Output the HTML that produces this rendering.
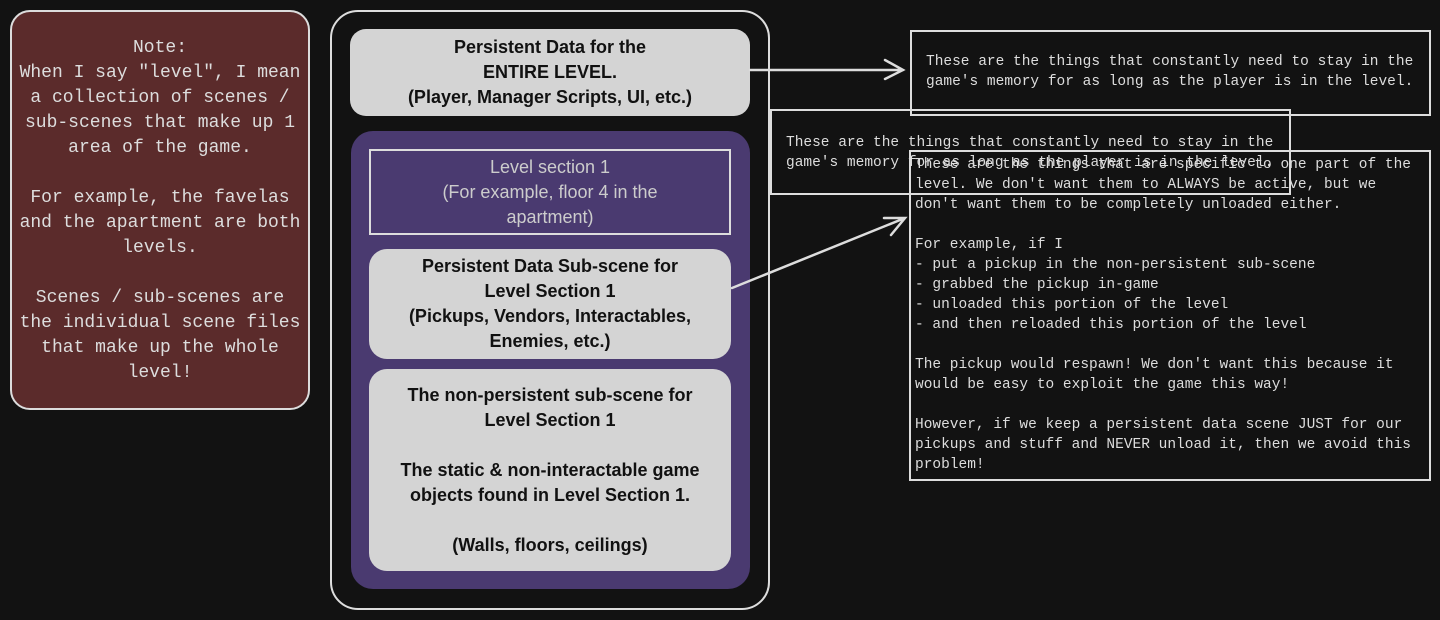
<!DOCTYPE html>
<html><head><meta charset="utf-8"><style>
body{margin:0;width:1440px;height:620px;background:#121212;position:relative;overflow:hidden;font-family:"Liberation Sans",sans-serif}
.a{position:absolute;box-sizing:border-box;display:flex;align-items:center;justify-content:center;text-align:center}
.m{position:absolute;font-family:"Liberation Mono",monospace;font-size:14.5px;line-height:20px;color:#ddd;white-space:pre}
.box{position:absolute;box-sizing:border-box;border:2px solid #ddd}
</style></head><body>
<div class="a" style="left:10px;top:10px;width:300px;height:400px;background:#5b2b2b;border:2px solid #ddd;border-radius:20px;align-items:flex-start;padding-top:24px;color:#ddd;font-family:'Liberation Mono',monospace;font-size:18px;line-height:25px;white-space:nowrap">Note:<br>When I say "level", I mean<br>a collection of scenes /<br>sub-scenes that make up 1<br>area of the game.<br><br>For example, the favelas<br>and the apartment are both<br>levels.<br><br>Scenes / sub-scenes are<br>the individual scene files<br>that make up the whole<br>level!</div>

<div class="box" style="left:330px;top:10px;width:440px;height:600px;border-radius:28px"></div>
<div class="a" style="left:350px;top:29px;width:400px;height:87px;background:#d4d4d4;border-radius:16px;color:#111;font-weight:bold;font-size:18px;line-height:25px">Persistent Data for the<br>ENTIRE LEVEL.<br>(Player, Manager Scripts, UI, etc.)</div>
<div class="a" style="left:351px;top:131px;width:399px;height:458px;background:#4a3a70;border-radius:22px"></div>
<div class="a" style="left:369px;top:149px;width:362px;height:86px;border:2px solid #ddd;color:#ccc;font-size:18px;line-height:25px">Level section 1<br>(For example, floor 4 in the<br>apartment)</div>
<div class="a" style="left:369px;top:249px;width:362px;height:110px;background:#d4d4d4;border-radius:18px;color:#111;font-weight:bold;font-size:18px;line-height:25px">Persistent Data Sub-scene for<br>Level Section 1<br>(Pickups, Vendors, Interactables,<br>Enemies, etc.)</div>
<div class="a" style="left:369px;top:369px;width:362px;height:202px;background:#d4d4d4;border-radius:18px;color:#111;font-weight:bold;font-size:18px;line-height:25px">The non-persistent sub-scene for<br>Level Section 1<br><br>The static &amp; non-interactable game<br>objects found in Level Section 1.<br><br>(Walls, floors, ceilings)</div>

<div class="box" style="left:910px;top:30px;width:521px;height:86px"></div>
<div class="m" style="left:926px;top:52px">These are the things that constantly need to stay in the
game's memory for as long as the player is in the level.</div>
<div class="box" style="left:770px;top:109px;width:521px;height:86px"></div>
<div class="m" style="left:786px;top:133px">These are the things that constantly need to stay in the
game's memory for as long as the player is in the level.</div>
<div class="box" style="left:909px;top:150px;width:522px;height:331px"></div>
<div class="m" style="left:915px;top:155px">These are the things that are specific to one part of the
level. We don't want them to ALWAYS be active, but we
don't want them to be completely unloaded either.

For example, if I
- put a pickup in the non-persistent sub-scene
- grabbed the pickup in-game
- unloaded this portion of the level
- and then reloaded this portion of the level

The pickup would respawn! We don't want this because it
would be easy to exploit the game this way!

However, if we keep a persistent data scene JUST for our
pickups and stuff and NEVER unload it, then we avoid this
problem!</div>

<svg width="1440" height="620" style="position:absolute;left:0;top:0" fill="none" stroke="#ddd" stroke-width="2.5" stroke-linecap="round">
<path d="M750 70 L903 70 M885 60 L903 70 L885 79"/>
<path d="M732 288 L905 218 M884 218 L905 218 L891 235"/>
</svg>
</body></html>
